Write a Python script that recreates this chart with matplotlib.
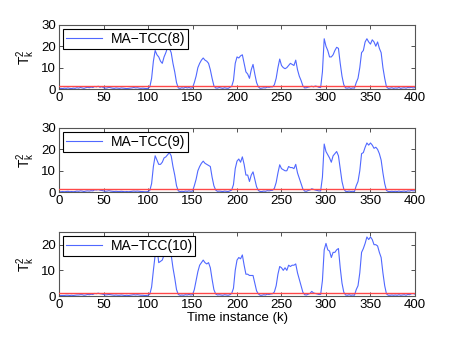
import numpy as np
import matplotlib.pyplot as plt

plt.rcParams['font.family'] = ['Liberation Sans', 'DejaVu Sans']

# time instance, sampled every 2 steps
k = list(range(0, 401, 2))

# T^2 statistic for MA-TCC(8)
t2_w8 = [
    0.2, 0.3, 0.2, 0.4, 0.3, 0.5, 0.3, 0.2, 0.4, 0.3, 0.6, 0.4, 0.7, 0.5, 0.3, 0.6, 0.8, 0.6, 0.9, 0.7,
    1.2, 1.0, 1.3, 0.8, 1.1, 0.6, 0.4, 0.5, 0.8, 0.6, 0.4, 0.3, 0.5, 0.4, 0.3, 0.5, 0.4, 0.3, 0.2, 0.3,
    0.4, 0.5, 0.7, 0.5, 0.6, 0.4, 0.3, 0.4, 0.3, 0.2, 0.3, 1.0, 5.0, 13.0, 18.0, 16.0, 15.0, 13.0, 12.0, 15.0,
    17.0, 19.5, 19.0, 17.0, 12.0, 8.0, 3.0, 0.5, 0.3, 0.6, 0.4, 0.8, 0.5, 0.7, 0.4, 0.6, 3.0, 6.0, 10.0, 12.0,
    13.5, 14.5, 13.5, 13.0, 12.0, 9.0, 5.0, 1.5, 0.5, 0.4, 0.7, 0.5, 0.3, 0.6, 0.4, 0.3, 0.8, 1.2, 4.0, 12.0,
    15.0, 14.5, 15.5, 16.0, 12.0, 8.0, 7.0, 5.0, 9.0, 11.5, 7.0, 3.0, 1.0, 0.3, 0.4, 0.6, 0.5, 0.9, 0.8, 1.0,
    1.0, 2.0, 5.0, 10.0, 14.0, 11.0, 10.0, 9.5, 10.0, 11.0, 12.0, 11.5, 11.0, 13.5, 9.0, 6.0, 4.0, 1.5, 0.5, 0.6,
    0.9, 1.1, 1.3, 1.0, 1.4, 1.2, 0.8, 0.7, 8.0, 23.5, 20.0, 18.0, 15.0, 15.0, 16.0, 18.0, 19.5, 19.0, 12.0, 6.0,
    2.0, 0.5, 0.4, 0.6, 0.3, 0.5, 0.4, 3.0, 5.0, 10.0, 17.0, 18.0, 22.0, 23.5, 22.0, 21.0, 23.0, 22.0, 20.0, 22.0,
    19.0, 17.0, 10.0, 5.0, 1.0, 0.3, 0.4, 0.6, 0.3, 0.5, 0.4, 0.7, 0.3, 0.5, 0.6, 0.4, 0.7, 0.6, 0.8, 0.5,
    0.7,
]

# T^2 statistic for MA-TCC(9)
t2_w9 = [
    0.1, 0.2, 0.3, 0.2, 0.3, 0.4, 0.2, 0.3, 0.2, 0.3, 0.5, 0.4, 0.6, 0.5, 0.3, 0.5, 0.6, 0.5, 0.7, 0.6,
    1.1, 1.0, 1.2, 0.9, 0.8, 0.6, 0.4, 0.5, 0.7, 0.5, 0.4, 0.3, 0.4, 0.3, 0.3, 0.4, 0.3, 0.2, 0.3, 0.2,
    0.3, 0.4, 0.5, 0.4, 0.5, 0.4, 0.3, 0.3, 0.2, 0.2, 0.3, 0.8, 4.0, 12.0, 17.0, 15.0, 13.0, 13.0, 14.0, 16.0,
    16.5, 17.5, 18.5, 17.0, 12.0, 8.0, 3.0, 0.6, 0.3, 0.4, 0.3, 0.5, 0.4, 0.6, 0.4, 0.5, 3.0, 6.0, 10.0, 12.0,
    13.5, 14.5, 13.5, 13.0, 12.5, 12.0, 7.0, 3.0, 1.0, 0.4, 0.5, 0.4, 0.3, 0.5, 0.4, 0.3, 0.6, 1.0, 3.5, 11.0,
    14.5, 15.5, 14.0, 16.5, 13.0, 8.0, 8.0, 5.0, 8.0, 9.5, 6.0, 2.5, 0.8, 0.3, 0.3, 0.5, 0.4, 0.7, 0.6, 0.8,
    0.9, 1.8, 4.5, 9.0, 12.8, 11.0, 10.5, 10.0, 10.0, 12.0, 11.5, 11.5, 11.0, 13.0, 9.0, 6.5, 4.0, 1.5, 0.5, 0.4,
    0.8, 1.0, 1.6, 1.3, 1.0, 0.8, 0.6, 0.6, 7.0, 22.5, 19.0, 17.5, 16.0, 14.0, 17.0, 18.0, 19.0, 17.0, 11.0, 5.0,
    1.5, 0.4, 0.3, 0.5, 0.3, 0.4, 0.3, 3.0, 5.0, 10.0, 18.0, 18.5, 21.0, 23.0, 22.0, 23.0, 22.0, 20.5, 21.0, 20.0,
    18.0, 15.0, 9.0, 4.0, 0.8, 0.3, 0.3, 0.4, 0.3, 0.4, 0.3, 0.5, 0.3, 0.4, 0.5, 0.3, 0.6, 0.5, 0.8, 0.6,
    0.7,
]

# T^2 statistic for MA-TCC(10)
t2_w10 = [
    0.1, 0.2, 0.2, 0.2, 0.3, 0.3, 0.2, 0.3, 0.2, 0.3, 0.4, 0.4, 0.5, 0.5, 0.3, 0.4, 0.6, 0.5, 0.7, 0.6,
    1.0, 0.9, 1.1, 0.9, 0.8, 0.6, 0.4, 0.5, 0.6, 0.5, 0.4, 0.3, 0.4, 0.3, 0.3, 0.4, 0.3, 0.2, 0.3, 0.2,
    0.3, 0.4, 0.5, 0.4, 0.5, 0.4, 0.3, 0.3, 0.2, 0.2, 0.3, 0.7, 3.5, 10.0, 16.0, 19.0, 13.0, 13.5, 14.0, 16.0,
    16.5, 17.0, 17.0, 16.0, 11.0, 7.0, 2.5, 0.6, 0.3, 0.4, 0.3, 0.5, 0.4, 0.6, 0.4, 0.5, 2.5, 6.0, 9.5, 12.0,
    13.0, 14.0, 13.0, 12.5, 13.0, 11.0, 6.5, 2.5, 0.8, 0.4, 0.5, 0.4, 0.3, 0.5, 0.4, 0.3, 0.5, 1.0, 3.0, 10.0,
    14.0, 15.0, 14.5, 16.0, 12.0, 8.5, 8.5, 8.0, 8.0, 8.0, 5.0, 2.0, 0.8, 0.3, 0.3, 0.5, 0.4, 0.7, 0.6, 0.8,
    0.9, 1.6, 4.0, 8.5, 11.5, 11.0, 10.0, 11.0, 10.0, 12.0, 11.5, 12.0, 12.0, 12.5, 9.0, 6.5, 4.0, 1.5, 0.5, 0.4,
    0.7, 1.0, 1.8, 1.2, 1.0, 0.8, 0.6, 0.6, 6.0, 18.0, 20.5, 18.0, 17.5, 15.0, 17.0, 17.0, 18.0, 18.5, 11.0, 5.0,
    1.5, 0.4, 0.3, 0.5, 0.3, 0.4, 0.3, 2.5, 4.0, 9.0, 17.0, 18.5, 20.5, 23.0, 22.0, 23.0, 22.0, 20.0, 20.0, 19.5,
    17.0, 15.0, 9.0, 4.0, 0.8, 0.3, 0.3, 0.4, 0.3, 0.4, 0.3, 0.5, 0.3, 0.4, 0.5, 0.3, 0.6, 0.5, 0.9, 1.0,
    0.7,
]

series = [t2_w8, t2_w9, t2_w10]
labels = ['MA\u2212TCC(8)', 'MA\u2212TCC(9)', 'MA\u2212TCC(10)']
limits = [1.6, 1.5, 1.3]
ymax = [30, 30, 25]
yticks = [[0, 10, 20, 30], [0, 10, 20, 30], [0, 10, 20]]

fig = plt.figure(figsize=(4.58, 3.45), dpi=100)
bottoms = [0.742, 0.443, 0.142]

for i in range(3):
    ax = fig.add_axes([0.129, bottoms[i], 0.777, 0.186])
    ax.plot(k, series[i], color='#5068ff', lw=0.8, label=labels[i], zorder=2)
    ax.axhline(limits[i], color='#ff4848', lw=1.0, zorder=3)
    ax.set_xlim(0, 400)
    ax.set_ylim(0, ymax[i])
    ax.set_xticks(range(0, 401, 50))
    ax.set_yticks(yticks[i])
    ax.tick_params(direction='in', top=True, right=True, labelsize=9.5, length=3,
                   width=0.6, color='#333333', pad=2)
    for s in ax.spines.values():
        s.set_color('#555555')
        s.set_linewidth(0.8)
    ax.set_ylabel('$\\mathregular{T_k^2}$', fontsize=10, labelpad=3)
    leg = ax.legend(loc='upper left', fontsize=10, fancybox=False, framealpha=1,
                    edgecolor='black', handlelength=2.6, borderaxespad=0.3,
                    borderpad=0.2, handletextpad=0.6)
    leg.get_frame().set_linewidth(0.8)
    leg.set_zorder(5)
    if i == 2:
        ax.set_xlabel('Time instance (k)', fontsize=9.5, labelpad=1)

fig.savefig('out.png', dpi=100)
